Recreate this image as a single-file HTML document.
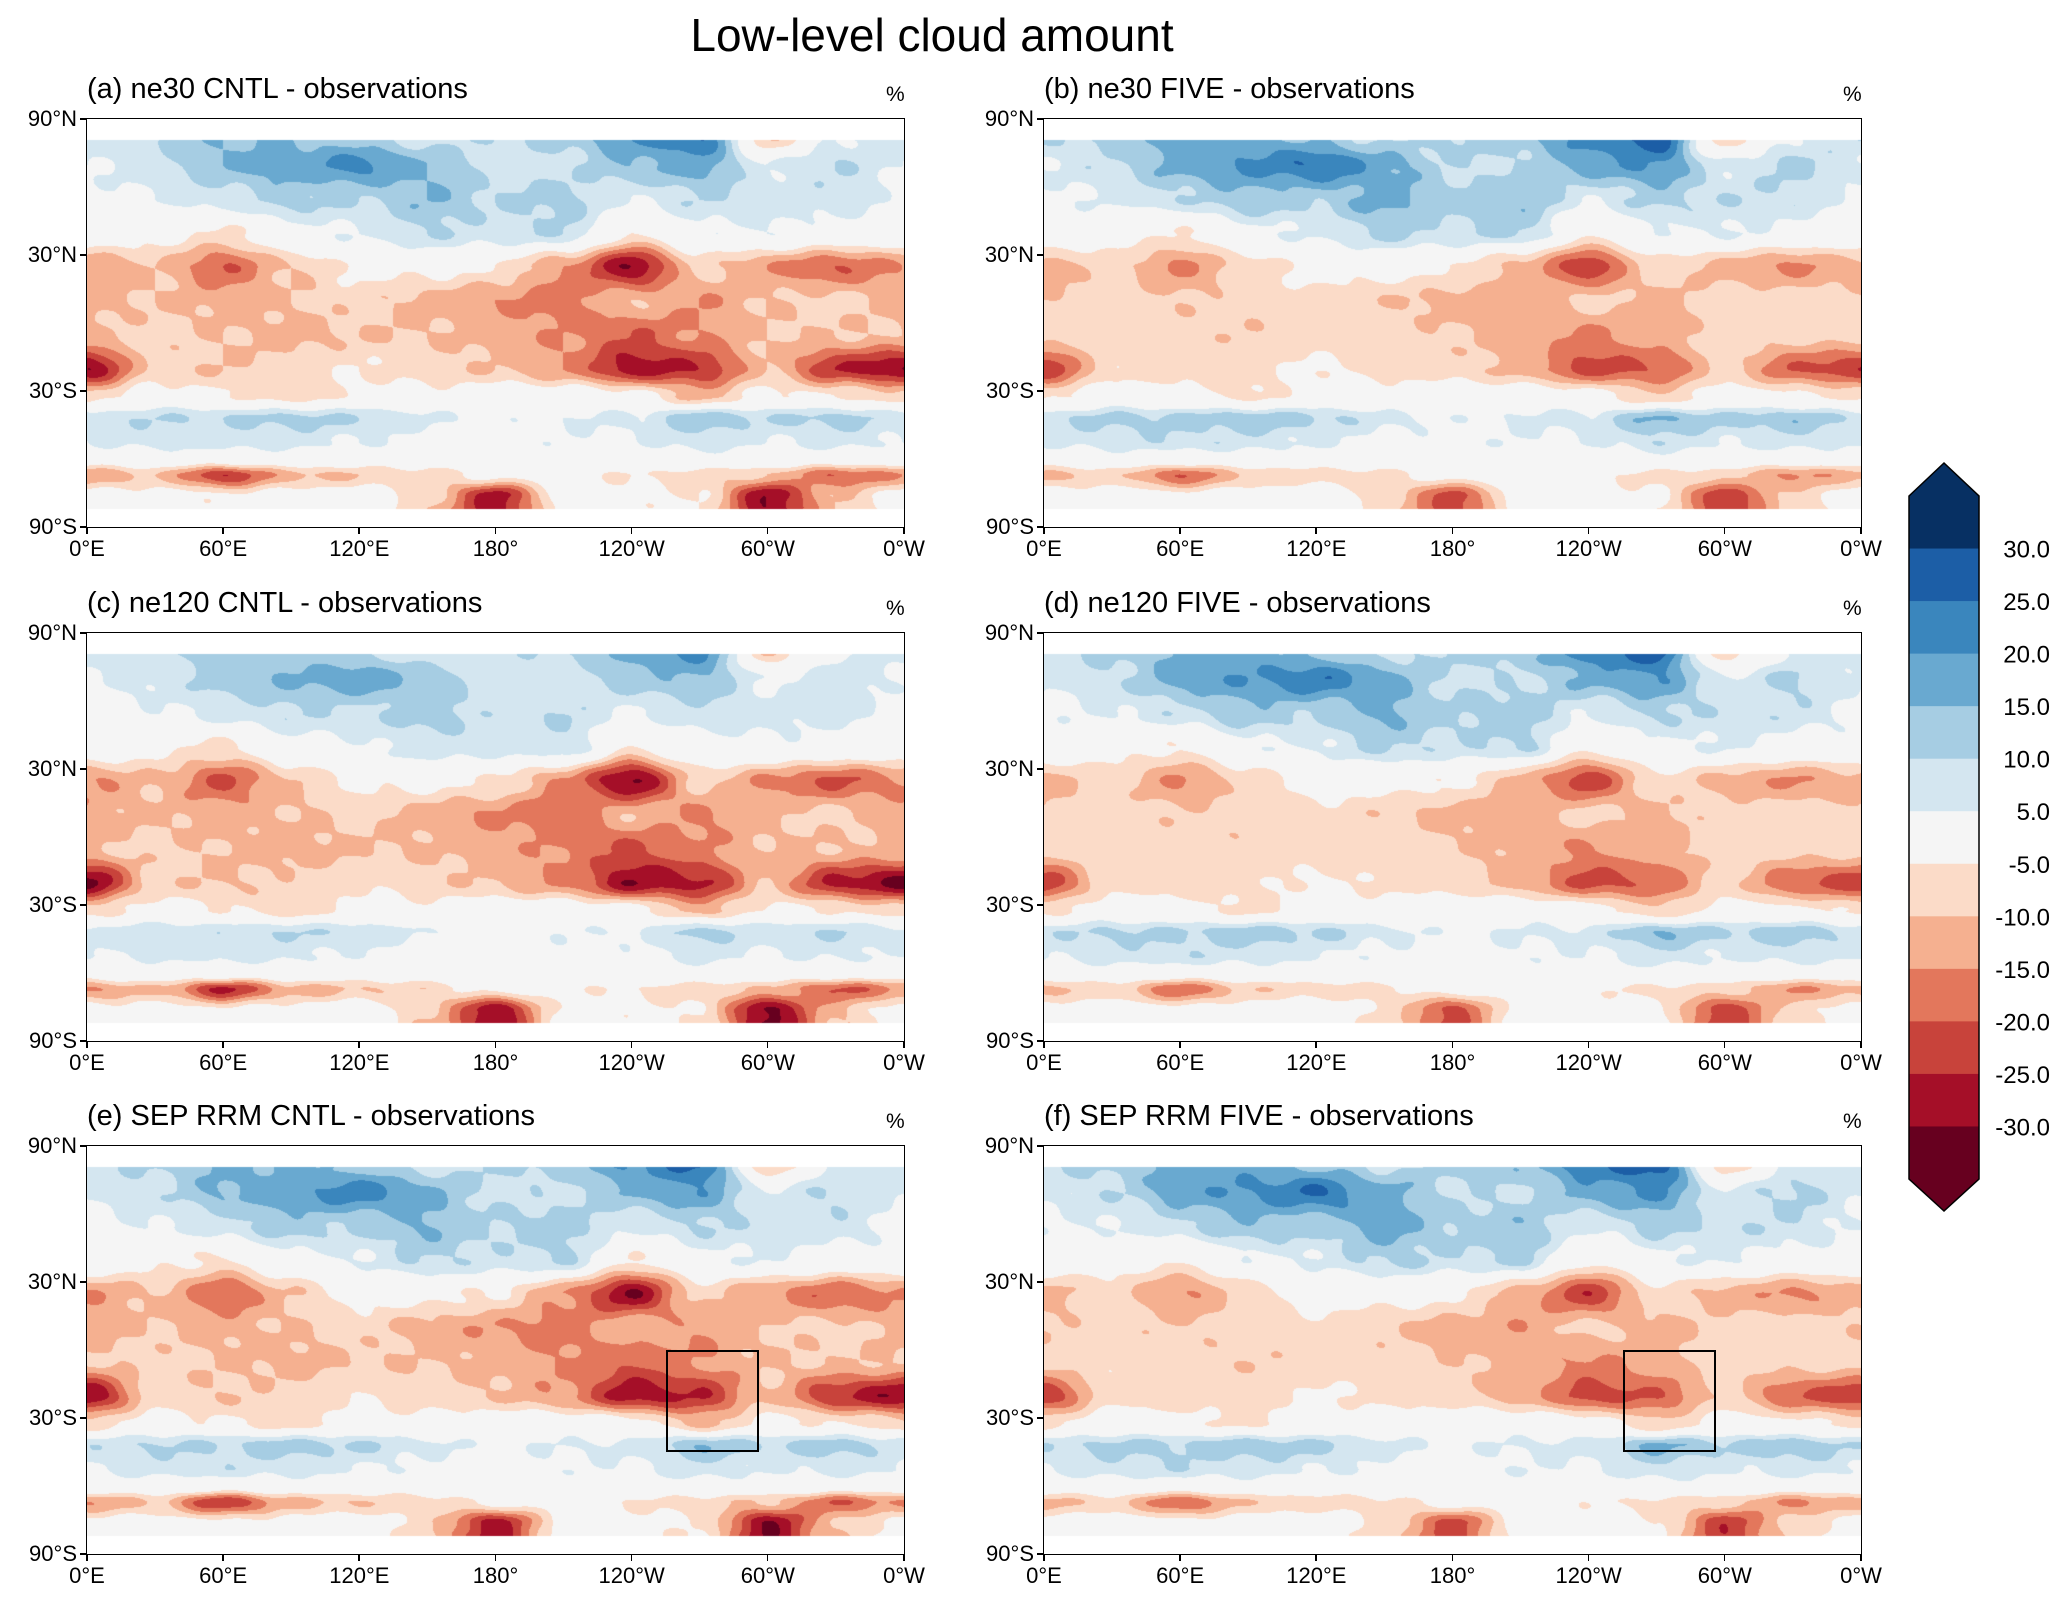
<!DOCTYPE html>
<html><head><meta charset="utf-8">
<style>
body{margin:0;background:#fff;width:2067px;height:1606px;position:relative;overflow:hidden;font-family:"Liberation Sans","DejaVu Sans",sans-serif;color:#000}
.abs{position:absolute}
.title{left:0;width:1864px;text-align:center;top:8px;font-size:46px}
.ptitle{font-size:29px;white-space:nowrap}
.pct{font-size:21px}
.tick{font-size:22px;white-space:nowrap}
canvas{position:absolute}
.frame{position:absolute;border:1.5px solid #000;box-sizing:border-box}
</style></head>
<body>
<div class="abs title">Low-level cloud amount</div>
<div id="root"></div>
<svg class="abs" style="left:0;top:0" width="2067" height="1606" id="cb"></svg>
<script>
// Grid: latitudes (rows) and longitudes (cols, degrees east), values = model - obs (%)
const lats=[82,70,55,40,25,10,-5,-20,-32,-42,-52,-60,-67,-76,-82];
const lons=[0,30,60,90,120,150,180,210,240,270,300,330];
const row82=[8,10,15,15,12,8,10,12,20,25,-10,5];
const row70=[5,8,15,18,22,15,8,8,15,18,5,10];
const row55=[3,5,8,12,10,15,10,12,5,10,8,8];
const row40=[2,-3,-6,3,5,10,8,10,-5,3,5,2];
const row25=[-15,-10,-20,-10,-3,-3,-5,-15,-30,-8,-15,-20];
const row10=[-12,-10,-12,-10,-8,-12,-15,-18,-10,-15,-10,-8];
const rowS5=[-10,-8,-10,-12,-10,-10,-12,-15,-20,-15,-10,-10];
const rowS20=[-30,-8,-10,-8,-5,-8,-10,-15,-28,-25,-10,-25];
const rowS32=[-8,-2,-4,-8,-3,-3,0,0,-2,-12,-3,-5];
const rowS42=[8,10,10,12,10,6,3,5,6,14,10,12];
const rowS52=[5,7,8,7,5,3,2,4,4,8,5,7];
const rowS60=[0,1,0,1,0,0,0,1,2,2,1,0];
const rowS67=[-15,-10,-25,-12,-10,-8,-3,-3,-5,-8,-10,-20];
const rowS76=[-2,-2,-4,-2,0,-8,-28,-3,-3,-5,-30,-10];
const rowS82=[-2,-2,-3,-2,0,-10,-28,-3,-3,-5,-30,-10];
const grid=[row82,row70,row55,row40,row25,row10,rowS5,rowS20,rowS32,rowS42,rowS52,rowS60,rowS67,rowS76,rowS82];
// Per-panel scaling of positive (blue) and negative (red) anomalies
const panelNames=["(a) ne30 CNTL - observations","(b) ne30 FIVE - observations","(c) ne120 CNTL - observations","(d) ne120 FIVE - observations","(e) SEP RRM CNTL - observations","(f) SEP RRM FIVE - observations"];
const posScale=[1.0,1.15,0.85,1.1,1.05,1.15];
const negScale=[1.0,0.8,1.05,0.78,1.0,0.8];
const hasBox=[false,false,false,false,true,true];
const boxLon=[255,296], boxLat=[0,-45];
const levels=[-30,-25,-20,-15,-10,-5,5,10,15,20,25,30];
const levelLabels=["-30.0","-25.0","-20.0","-15.0","-10.0","-5.0","5.0","10.0","15.0","20.0","25.0","30.0"];
const colors=["#67001f","#a50f28","#c8433b","#e3775c","#f5b090","#fbdbc8","#f5f5f5","#d4e6f0","#a6cde3","#69a9d0","#3a86bd","#1c5ea6","#073063"];
const xTickLons=[0,60,120,180,240,300,360];
const xTickLabels=["0°E","60°E","120°E","180°","120°W","60°W","0°W"];
const yTickLats=[90,30,-30,-90];
const yTickLabels=["90°N","30°N","30°S","90°S"];

const colX=[87,1044], rowY=[119,633,1146], PW=817, PH=408;
function hex(c){return [parseInt(c.slice(1,3),16),parseInt(c.slice(3,5),16),parseInt(c.slice(5,7),16)];}
const rgb=colors.map(hex);
function colorFor(v){let i=0;while(i<levels.length&&v>=levels[i])i++;return rgb[i];}
function sample(lat,lon){
  let r=0;while(r<lats.length-2&&lat<lats[r+1])r++;
  let t=(lats[r]-lat)/(lats[r]-lats[r+1]);t=Math.max(0,Math.min(1,t));
  t=t*t*(3-2*t);
  let l=((lon%360)+360)%360;let c=Math.floor(l/30),u=(l-c*30)/30,c2=(c+1)%12;
  u=u*u*(3-2*u);
  const a=grid[r][c]*(1-u)+grid[r][c2]*u, b=grid[r+1][c]*(1-u)+grid[r+1][c2]*u;
  return a*(1-t)+b*t;
}
const root=document.getElementById('root');
for(let p=0;p<6;p++){
  const x0=colX[p%2], y0=rowY[Math.floor(p/2)];
  const xs=lon=>x0+lon/360*PW, ys=lat=>y0+(90-lat)/180*PH;
  const t=document.createElement('div');t.className='abs ptitle';t.style.left=(x0)+'px';t.style.top=(y0-46)+'px';t.textContent=panelNames[p];
  
  
  root.appendChild(t);
  const pc=document.createElement('div');pc.className='abs pct';pc.style.left=(x0+PW-18)+'px';pc.style.top=(y0-36)+'px';pc.textContent='%';
  
  
  root.appendChild(pc);
  const cv=document.createElement('canvas');cv.width=PW;cv.height=PH;cv.style.left=x0+'px';cv.style.top=y0+'px';
  
  
  root.appendChild(cv);
  const ctx=cv.getContext('2d');const img=ctx.createImageData(PW,PH);
  for(let j=0;j<PH;j++){const lat=90-j/PH*180;
    for(let i=0;i<PW;i++){const lon=i/PW*360;let o=(j*PW+i)*4;
      let col;
      if(lat>81||lat<-82){col=[255,255,255];}
      else{let v=sample(lat,lon);
        v+=1.8*Math.sin(lon*0.21+p)*Math.sin(lat*0.33+lon*0.05);
        v=v>0?v*posScale[p]:v*negScale[p];
        col=colorFor(v);}
      img.data[o]=col[0];img.data[o+1]=col[1];img.data[o+2]=col[2];img.data[o+3]=255;}}
  ctx.putImageData(img,0,0);
  const f=document.createElement('div');f.className='frame';f.style.left=(x0-1)+'px';f.style.top=(y0-1)+'px';f.style.width=(PW+2)+'px';f.style.height=(PH+2)+'px';
  
  
  root.appendChild(f);
  if(hasBox[p]){const b=document.createElement('div');b.className='frame';b.style.border='2px solid #000';
    b.style.left=xs(boxLon[0])+'px';b.style.top=ys(boxLat[0])+'px';b.style.width=(xs(boxLon[1])-xs(boxLon[0]))+'px';b.style.height=(ys(boxLat[1])-ys(boxLat[0]))+'px';
    
    
    root.appendChild(b);}
  xTickLons.forEach((lo,k)=>{const tk=document.createElement('div');tk.className='abs';tk.style.cssText+=`left:${xs(lo)-1}px;top:${y0+PH}px;width:1.5px;height:7px;background:#000`;
    
    
    root.appendChild(tk);
    const lb=document.createElement('div');lb.className='abs tick';lb.style.left=(xs(lo)-60)+'px';lb.style.width='120px';lb.style.textAlign='center';lb.style.top=(y0+PH+9)+'px';lb.textContent=xTickLabels[k];
    
    
    root.appendChild(lb);});
  yTickLats.forEach((la,k)=>{const tk=document.createElement('div');tk.className='abs';tk.style.cssText+=`left:${x0-7}px;top:${ys(la)-1}px;width:7px;height:1.5px;background:#000`;
    
    
    root.appendChild(tk);
    const lb=document.createElement('div');lb.className='abs tick';lb.style.left=(x0-92)+'px';lb.style.width='82px';lb.style.textAlign='right';lb.style.top=(ys(la)-13)+'px';lb.textContent=yTickLabels[k];
    
    
    root.appendChild(lb);});
}
// colorbar
const svg=document.getElementById('cb'),NS='http://www.w3.org/2000/svg';
const cbX=1909,cbW=70,cbTop=496,cbBot=1179,tipTop=463,tipBot=1211;
const segH=(cbBot-cbTop)/13;
for(let k=0;k<13;k++){const y=cbTop+k*segH;const ci=12-k;
  const r=document.createElementNS(NS,'rect');r.setAttribute('x',cbX);r.setAttribute('y',y);r.setAttribute('width',cbW);r.setAttribute('height',segH+0.5);r.setAttribute('fill',colors[ci]);
  
  
  svg.appendChild(r);}
[[tipTop,cbTop,colors[12]],[tipBot,cbBot,colors[0]]].forEach(([tip,base,c])=>{const pl=document.createElementNS(NS,'polygon');
  pl.setAttribute('points',`${cbX},${base} ${cbX+cbW/2},${tip} ${cbX+cbW},${base}`);pl.setAttribute('fill',c);
  
  
  svg.appendChild(pl);});
const ol=document.createElementNS(NS,'polygon');
ol.setAttribute('points',`${cbX},${cbTop} ${cbX+cbW/2},${tipTop} ${cbX+cbW},${cbTop} ${cbX+cbW},${cbBot} ${cbX+cbW/2},${tipBot} ${cbX},${cbBot}`);
ol.setAttribute('fill','none');ol.setAttribute('stroke','#000');ol.setAttribute('stroke-width','1.5');


svg.appendChild(ol);
levels.forEach((lv,k)=>{const y=cbBot-(k+1)*segH;const t=document.createElementNS(NS,'text');
  t.setAttribute('x',2050);t.setAttribute('y',y+9);t.setAttribute('text-anchor','end');t.setAttribute('font-size','24');t.setAttribute('font-family','Liberation Sans, DejaVu Sans, sans-serif');
  t.textContent=levelLabels[k];
  
  
  svg.appendChild(t);});
</script>
</body></html>
